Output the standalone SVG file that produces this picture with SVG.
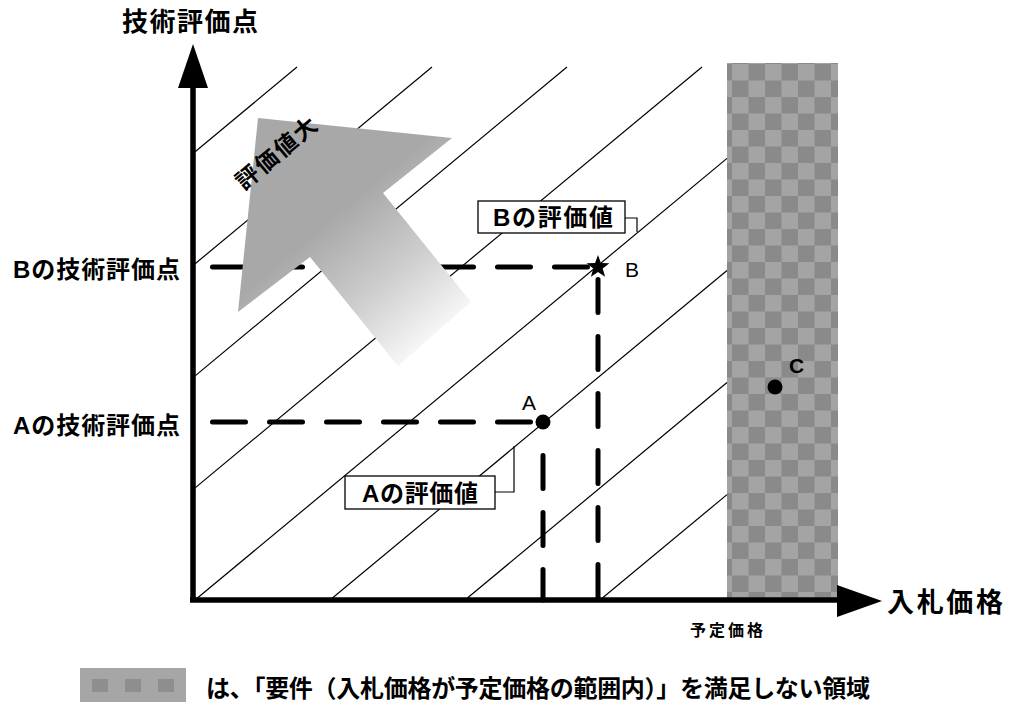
<svg xmlns="http://www.w3.org/2000/svg" width="1009" height="715" viewBox="0 0 1009 715">
<style>
text{font-family:"Liberation Sans","Noto Sans CJK JP",sans-serif;fill:#000}
.t{font-weight:bold}
.hatch{stroke:#000;stroke-width:1.2;fill:none}
.dash{stroke:#000;stroke-width:5;fill:none;stroke-linecap:round;stroke-dasharray:33 24}
.axis{stroke:#000;stroke-width:5.5;fill:none}
.box{fill:#fff;stroke:#000;stroke-width:1.3}
.call{fill:none;stroke:#000;stroke-width:1.2}
</style>
<defs>
<pattern id="chk" patternUnits="userSpaceOnUse" x="732" y="64" width="33" height="33">
<rect width="33" height="33" fill="#a4a4a4"/>
<rect x="16.5" y="0" width="16.5" height="16.5" fill="#8a8a8a"/>
<rect x="0" y="16.5" width="16.5" height="16.5" fill="#8a8a8a"/>
</pattern>
<pattern id="chk2" patternUnits="userSpaceOnUse" x="80" y="668" width="33" height="35">
<rect width="33" height="35" fill="#a6a6a6"/>
<rect x="12" y="11" width="16" height="13" fill="#8e8e8e"/>
</pattern>
<linearGradient id="fade" gradientUnits="userSpaceOnUse" x1="335" y1="215" x2="440" y2="340">
<stop offset="0" stop-color="#a8a8a8"/>
<stop offset="0.5" stop-color="#cdcdcd"/>
<stop offset="1" stop-color="#fafafa"/>
</linearGradient>
</defs>
<rect width="1009" height="715" fill="#fff"/>

<g id="region-out">
<rect x="727" y="63" width="111" height="537" fill="url(#chk)"/>
</g>

<g id="hatching">
<line class="hatch" x1="600" y1="600" x2="727" y2="494.6"/>
<line class="hatch" x1="465" y1="600" x2="727" y2="382.5"/>
<line class="hatch" x1="330" y1="600" x2="727" y2="270.5"/>
<line class="hatch" x1="195" y1="600" x2="727" y2="158.4"/>
<line class="hatch" x1="193" y1="489.6" x2="702" y2="67"/>
<line class="hatch" x1="193" y1="377.6" x2="567" y2="67"/>
<line class="hatch" x1="193" y1="265.5" x2="432" y2="67"/>
<line class="hatch" x1="193" y1="153.5" x2="297" y2="67"/>
</g>

<g id="connectors">
<line class="dash" x1="212.5" y1="267" x2="598" y2="267"/>
<line class="dash" x1="212.5" y1="422" x2="543" y2="422"/>
<line class="dash" x1="543" y1="455.5" x2="543" y2="600"/>
<line class="dash" x1="598" y1="279.5" x2="598" y2="600"/>
<polyline class="call" points="625,218 637,218 637,232"/>
<polyline class="call" points="495,492 514,492 514,446"/>
</g>

<g id="arrow-eval">
<polygon points="258,118 452,138 383,193 471,302 398,366 310,257 238,312" fill="url(#fade)"/>
<text class="t" font-size="23" transform="translate(244,191) rotate(-40)" textLength="98" lengthAdjust="spacing">評価値大</text>
</g>

<g id="axes">
<line class="axis" x1="193" y1="84" x2="193" y2="602"/>
<polygon points="193,44 178,88 208,88"/>
<line class="axis" x1="190" y1="600" x2="840" y2="600"/>
<polygon points="882,601 837,585 837,617"/>
<text class="t" x="122" y="31" font-size="26" textLength="136" lengthAdjust="spacing">技術評価点</text>
<text class="t" x="887" y="612" font-size="27" textLength="116" lengthAdjust="spacing">入札価格</text>
<text class="t" x="690" y="636" font-size="16" textLength="73" lengthAdjust="spacing">予定価格</text>
<text class="t" x="13" y="278" font-size="24" textLength="167" lengthAdjust="spacing">Bの技術評価点</text>
<text class="t" x="13" y="434" font-size="24" textLength="167" lengthAdjust="spacing">Aの技術評価点</text>
</g>

<g id="point-A">
<circle cx="543" cy="422" r="7.5"/>
<text x="522" y="410" font-size="21">A</text>
</g>

<g id="point-B">
<polygon points="598,255 600.9,263 609.4,263.3 602.7,268.5 605.1,276.7 598,272 590.9,276.7 593.3,268.5 586.6,263.3 595.1,263"/>
<text x="625" y="277" font-size="21">B</text>
</g>

<g id="point-C">
<circle cx="775" cy="387" r="7.5"/>
<text class="t" x="789" y="373" font-size="21">C</text>
</g>

<g id="label-B">
<rect class="box" x="478" y="201" width="147" height="32"/>
<text class="t" x="493" y="226" font-size="24" textLength="120" lengthAdjust="spacing">Bの評価値</text>
</g>

<g id="label-A">
<rect class="box" x="345" y="476" width="150" height="33"/>
<text class="t" x="362" y="502" font-size="24" textLength="116" lengthAdjust="spacing">Aの評価値</text>
</g>

<g id="legend">
<rect x="80" y="668" width="106" height="34" fill="url(#chk2)"/>
<text class="t" x="206" y="697" font-size="24" textLength="664" lengthAdjust="spacing">は、「要件（入札価格が予定価格の範囲内）」を満足しない領域</text>
</g>
</svg>
